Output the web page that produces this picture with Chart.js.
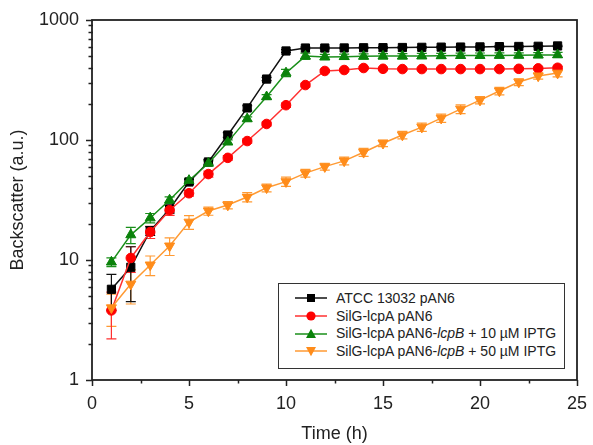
<!DOCTYPE html>
<html>
<head>
<meta charset="utf-8">
<script src="https://cdn.jsdelivr.net/npm/chart.js@4.4.1/dist/chart.umd.min.js"></script>
<style>
  body { margin: 0; background: #fff; }
  #wrap { position: relative; width: 593px; height: 445px; }
  #legend {
    position: absolute; left: 278px; top: 283px; width: 285px; height: 78px;
    border: 1.5px solid #333; background: #fff;
    font-family: "Liberation Sans", Arial, sans-serif; font-size: 14px; color: #222;
    padding-top: 6px; box-sizing: content-box;
  }
  #legend .row { height: 17.7px; line-height: 17.7px; white-space: nowrap; }
  #legend svg { vertical-align: middle; margin-left: 16px; margin-right: 9px; position: relative; top: -1px; }
</style>
</head>
<body>
<div id="wrap">
  <canvas id="grafico" width="593" height="445"></canvas>
  <div id="legend"></div>
</div>
<script>
// dados
var tempo = [1, 2, 3, 4, 5, 6, 7, 8, 9, 10, 11, 12, 13, 14, 15, 16, 17, 18, 19, 20, 21, 22, 23, 24];

var atcc = [5.7, 8.7, 17.5, 26.6, 44.7, 65.6, 110, 185, 322, 552, 584, 584, 585, 587, 588, 590, 592, 594, 595, 597, 600, 602, 604, 608];
var atccErro = [1.9, 4.2, 1.5, 2, 2, 3, 5, 8, 10, 15, 10, 10, 8, 8, 8, 8, 8, 8, 8, 8, 8, 8, 8, 8];

var silg = [3.8, 10.4, 17.1, 26, 36, 52, 71, 98, 136, 195, 287, 376, 383, 398, 392, 390, 390, 390, 390, 390, 390, 392, 395, 400];
var silgErro = [1.6, 2.5, 2, 2.5, 2, 3, 3, 4, 5, 8, 10, 10, 10, 10, 10, 10, 10, 10, 10, 10, 10, 10, 10, 10];

var silg10 = [9.6, 16.2, 22.4, 31.6, 46, 64, 96, 150, 229, 362, 500, 492, 495, 498, 500, 500, 502, 503, 505, 506, 507, 508, 510, 512];
var silg10Erro = [0.8, 2.5, 2, 2, 2, 3, 4, 6, 10, 25, 30, 25, 25, 25, 25, 25, 25, 25, 25, 25, 25, 25, 25, 25];

var silg50 = [4.0, 6.3, 9.1, 13.1, 20.7, 25.6, 28.7, 33.5, 40, 45, 53, 60, 67, 79, 94, 110, 128, 152, 181, 215, 256, 304, 342, 361];
var silg50Erro = [1.2, 2, 1.7, 2.2, 2.7, 2, 2, 3, 3, 4, 4, 4, 5, 6, 6, 8, 10, 12, 15, 15, 18, 20, 20, 25];

var xTicks = [0, 5, 10, 15, 20, 25];
var yTicks = [1, 10, 100, 1000];

var nomes = [
    'ATCC 13032 pAN6',
    'SilG-lcpA pAN6',
    'SilG-lcpA pAN6-<i>lcpB</i> + 10 µM IPTG',
    'SilG-lcpA pAN6-<i>lcpB</i> + 50 µM IPTG'
];

function pontos(valores) {
    var lista = [];
    for (var i = 0; i < tempo.length; i++) {
        lista.push({ x: tempo[i], y: valores[i] });
    }
    return lista;
}

var series = [
    { label: nomes[0], data: pontos(atcc), erro: atccErro, cor: '#000000', linha: '#111111', estilo: 'rect', raio: 5.8, rot: 0 },
    { label: nomes[1], data: pontos(silg), erro: silgErro, cor: '#ff0000', linha: '#ff3030', estilo: 'circle', raio: 4.8, rot: 0 },
    { label: nomes[2], data: pontos(silg10), erro: silg10Erro, cor: '#0a820a', linha: '#1a8f1a', estilo: 'triangle', raio: 5.8, rot: 0 },
    { label: nomes[3], data: pontos(silg50), erro: silg50Erro, cor: '#ff8c1a', linha: '#ff9a33', estilo: 'triangle', raio: 5.8, rot: 180 }
];

// barras de erro (desenhadas antes dos marcadores)
var barrasErro = {
    id: 'barrasErro',
    beforeDatasetsDraw: function (chart) {
        var ctx = chart.ctx;
        var sx = chart.scales.x, sy = chart.scales.y;
        ctx.save();
        ctx.lineWidth = 1.2;
        chart.data.datasets.forEach(function (ds) {
            ctx.strokeStyle = ds.borderColor;
            for (var i = 0; i < ds.data.length; i++) {
                var px = sx.getPixelForValue(ds.data[i].x);
                var lo = Math.max(ds.data[i].y - ds.erro[i], 1);
                var hi = ds.data[i].y + ds.erro[i];
                var yLo = sy.getPixelForValue(lo), yHi = sy.getPixelForValue(hi);
                ctx.beginPath();
                ctx.moveTo(px, yLo); ctx.lineTo(px, yHi);
                ctx.moveTo(px - 5, yLo); ctx.lineTo(px + 5, yLo);
                ctx.moveTo(px - 5, yHi); ctx.lineTo(px + 5, yHi);
                ctx.stroke();
            }
        });
        ctx.restore();
    }
};

// moldura e tracinhos dos eixos
var moldura = {
    id: 'moldura',
    afterDraw: function (chart) {
        var ctx = chart.ctx, a = chart.chartArea;
        var sx = chart.scales.x, sy = chart.scales.y;
        ctx.save();
        ctx.strokeStyle = '#222';
        ctx.lineWidth = 1.8;
        ctx.strokeRect(a.left, a.top, a.right - a.left, a.bottom - a.top);
        ctx.lineWidth = 1.5;
        ctx.beginPath();
        for (var t = 0; t <= 25; t += 2.5) {
            var px = Math.round(sx.getPixelForValue(t)) + 0.5;
            var len = (t % 5 === 0) ? 6 : 3.5;
            ctx.moveTo(px, a.bottom); ctx.lineTo(px, a.bottom + len);
        }
        for (var d = 1; d <= 100; d *= 10) {
            for (var m = 1; m <= 10; m++) {
                var v = d * m;
                var py = Math.round(sy.getPixelForValue(v)) + 0.5;
                var l = (m === 1 || m === 10) ? 6 : 3.5;
                ctx.moveTo(a.left + 1, py); ctx.lineTo(a.left - l, py);
            }
        }
        ctx.stroke();
        ctx.restore();
    }
};

Chart.defaults.font.family = '"Liberation Sans", Arial, sans-serif';
Chart.defaults.color = '#222';

var grafico = new Chart(document.getElementById('grafico'), {
    type: 'line',
    data: {
        datasets: series.map(function (s) {
            return {
                label: s.label,
                data: s.data,
                erro: s.erro,
                borderColor: s.linha,
                backgroundColor: s.cor,
                pointBackgroundColor: s.cor,
                pointBorderColor: s.cor,
                pointStyle: s.estilo,
                pointRotation: s.rot,
                pointRadius: s.raio,
                pointBorderWidth: 1,
                borderWidth: 1.5,
                tension: 0
            };
        }).reverse()
    },
    options: {
        responsive: false,
        animation: { duration: 0 },
        layout: { padding: { top: 20, right: 16, left: 0, bottom: 0 } },
        plugins: { legend: { display: false }, tooltip: { enabled: false } },
        scales: {
            x: {
                type: 'linear', min: 0, max: 25,
                grid: { display: false, drawTicks: false },
                border: { display: false },
                afterBuildTicks: function (scale) {
                    scale.ticks = xTicks.map(function (v) { return { value: v }; });
                },
                afterFit: function (scale) {
                    scale.height = 65;
                    scale.paddingLeft = 0;
                    scale.paddingRight = 0;
                },
                ticks: { font: { size: 18 }, padding: 13, maxRotation: 0 },
                title: { display: true, text: 'Time (h)', font: { size: 18 }, padding: { top: 4, bottom: 0 } }
            },
            y: {
                type: 'logarithmic', min: 1, max: 1000,
                grid: { display: false, drawTicks: false },
                border: { display: false },
                afterBuildTicks: function (scale) {
                    scale.ticks = yTicks.map(function (v) { return { value: v }; });
                },
                afterFit: function (scale) {
                    scale.width = 92;
                    scale.paddingTop = 0;
                    scale.paddingBottom = 0;
                },
                ticks: {
                    font: { size: 18 }, padding: 13, autoSkip: false,
                    callback: function (v) { return String(v); }
                },
                title: { display: true, text: 'Backscatter (a.u.)', font: { size: 18 }, padding: { top: 7, bottom: 0 } }
            }
        }
    },
    plugins: [barrasErro, moldura]
});

// legenda em HTML (para o lcpB em italico)
var legenda = document.getElementById('legend');
series.forEach(function (s) {
    var marca = '';
    if (s.estilo === 'rect') marca = '<rect x="12" y="2" width="8" height="8" fill="' + s.cor + '"/>';
    if (s.estilo === 'circle') marca = '<circle cx="16" cy="6" r="4.6" fill="' + s.cor + '"/>';
    if (s.estilo === 'triangle' && s.rot === 0) marca = '<polygon points="16,0.8 21,10 11,10" fill="' + s.cor + '"/>';
    if (s.estilo === 'triangle' && s.rot === 180) marca = '<polygon points="11,2 21,2 16,11.2" fill="' + s.cor + '"/>';
    legenda.innerHTML += '<div class="row"><svg width="32" height="12"><line x1="0" y1="6" x2="32" y2="6" stroke="' + s.linha + '" stroke-width="1.5"/>' + marca + '</svg>' + s.label + '</div>';
});
</script>
</body>
</html>
